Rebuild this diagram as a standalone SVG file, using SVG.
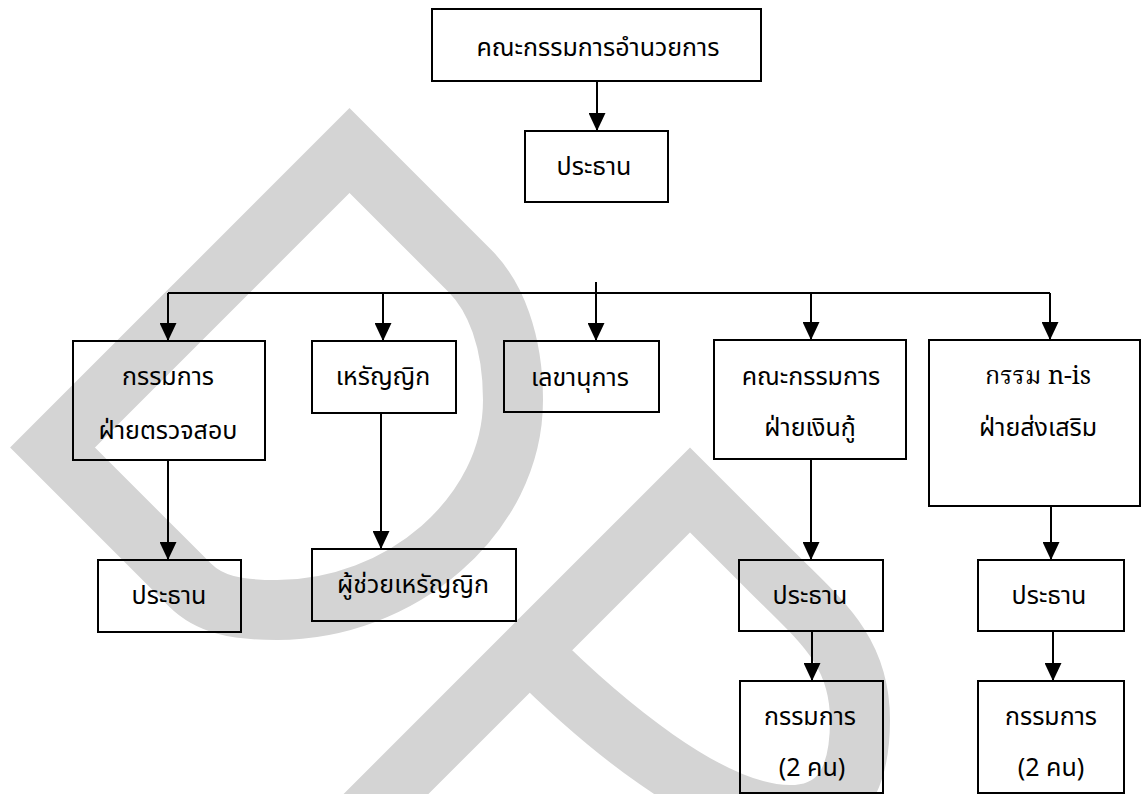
<svg xmlns="http://www.w3.org/2000/svg" width="1143" height="794" viewBox="0 0 1143 794">
<style>
.box{fill:none;stroke:#000;stroke-width:2}
.t{font-family:"Noto Sans Thai","Noto Sans Thai UI","Noto Sans","DejaVu Sans",sans-serif;font-size:25px;fill:#000;text-anchor:middle}
.ts{font-family:"Noto Serif Thai","Liberation Serif","Noto Sans Thai",serif;font-size:25px;fill:#000;text-anchor:middle}
.wm{fill:none;stroke:#d4d4d4;stroke-width:60;stroke-linejoin:miter;stroke-miterlimit:4}
.c{fill:none;stroke:#000;stroke-width:2}
</style>
<defs>
<marker id="ah" markerUnits="userSpaceOnUse" markerWidth="18" markerHeight="17" viewBox="0 0 18 17" refX="18" refY="8.5" orient="auto">
<path d="M0,0 L18,8.5 L0,17 Z" fill="#000"/>
</marker>
</defs>
<rect width="1143" height="794" fill="#fff"/>
<g id="watermark">
<path class="wm" d="M52.5 447.5 L349.5 150.5 L470 271 C495 296 513 340 513 400 C513 516 400 610 277 610 C237 610 210 605 190 585 Z"/>
<path class="wm" d="M250 930 L690 490 L770 570 C820 620 860 650 860 720 C860 780 840 815 790 815 C710 815 600 721 530 651"/>
</g>
<g id="connectors">
<line class="c" x1="597" y1="81" x2="597" y2="131" marker-end="url(#ah)"/>
<line class="c" x1="596" y1="282" x2="596" y2="293"/>
<line class="c" x1="168" y1="293" x2="1050" y2="293"/>
<line class="c" x1="168" y1="293" x2="168" y2="341" marker-end="url(#ah)"/>
<line class="c" x1="383" y1="293" x2="383" y2="341" marker-end="url(#ah)"/>
<line class="c" x1="596" y1="293" x2="596" y2="341" marker-end="url(#ah)"/>
<line class="c" x1="811" y1="293" x2="811" y2="340" marker-end="url(#ah)"/>
<line class="c" x1="1050" y1="293" x2="1050" y2="340" marker-end="url(#ah)"/>
<line class="c" x1="168" y1="460" x2="168" y2="560" marker-end="url(#ah)"/>
<line class="c" x1="381" y1="413" x2="381" y2="549" marker-end="url(#ah)"/>
<line class="c" x1="811" y1="459" x2="811" y2="560" marker-end="url(#ah)"/>
<line class="c" x1="1051" y1="506" x2="1051" y2="560" marker-end="url(#ah)"/>
<line class="c" x1="812" y1="631" x2="812" y2="681" marker-end="url(#ah)"/>
<line class="c" x1="1053" y1="631" x2="1053" y2="681" marker-end="url(#ah)"/>
</g>
<g id="n-board"><rect class="box" x="432" y="9" width="329" height="72"/><text class="t" x="598" y="56">คณะกรรมการอำนวยการ</text></g>
<g id="n-chair"><rect class="box" x="525" y="131" width="143" height="71"/><text class="t" x="594" y="175">ประธาน</text></g>
<g id="n-audit"><rect class="box" x="73" y="341" width="192" height="119"/><text class="t" x="168" y="385">กรรมการ</text><text class="t" x="168" y="439">ฝ่ายตรวจสอบ</text></g>
<g id="n-treasurer"><rect class="box" x="312" y="341" width="144" height="72"/><text class="t" x="383" y="385">เหรัญญิก</text></g>
<g id="n-secretary"><rect class="box" x="504" y="341" width="155" height="71"/><text class="t" x="580" y="386">เลขานุการ</text></g>
<g id="n-loan"><rect class="box" x="714" y="340" width="192" height="119"/><text class="t" x="811" y="385">คณะกรรมการ</text><text class="t" x="810" y="436">ฝ่ายเงินกู้</text></g>
<g id="n-promo"><rect class="box" x="929" y="340" width="211" height="166"/><text class="ts" x="1038" y="384">กรรม n-is</text><text class="t" x="1038" y="436">ฝ่ายส่งเสริม</text></g>
<g id="n-audit-chair"><rect class="box" x="98" y="560" width="143" height="72"/><text class="t" x="169" y="604">ประธาน</text></g>
<g id="n-asst-treasurer"><rect class="box" x="312" y="549" width="204" height="72"/><text class="t" x="413" y="593">ผู้ช่วยเหรัญญิก</text></g>
<g id="n-loan-chair"><rect class="box" x="739" y="560" width="144" height="71"/><text class="t" x="810" y="604">ประธาน</text></g>
<g id="n-promo-chair"><rect class="box" x="978" y="560" width="146" height="71"/><text class="t" x="1049" y="604">ประธาน</text></g>
<g id="n-loan-members"><rect class="box" x="740" y="681" width="143" height="112"/><text class="t" x="810" y="725">กรรมการ</text><text class="t" x="812" y="776">(2 คน)</text></g>
<g id="n-promo-members"><rect class="box" x="978" y="681" width="146" height="112"/><text class="t" x="1051" y="725">กรรมการ</text><text class="t" x="1051" y="776">(2 คน)</text></g>
</svg>
